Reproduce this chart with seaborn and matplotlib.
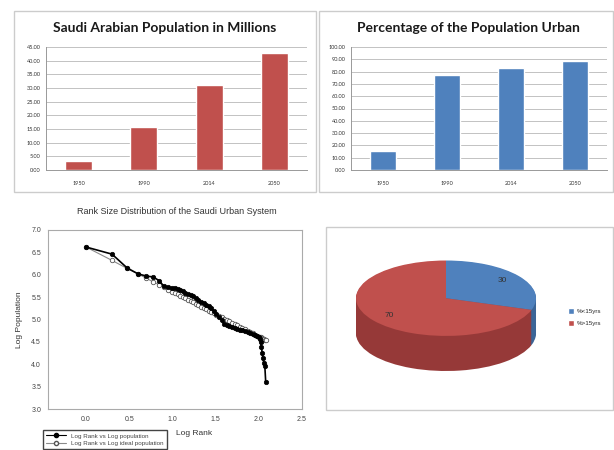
import numpy as np
import seaborn as sns
import matplotlib.pyplot as plt
from matplotlib.patches import Rectangle, Patch
from matplotlib.lines import Line2D

# bar charts
years = ['1950', '1990', '2014', '2050']
pop_millions = [3.2, 15.8, 31.0, 42.7]
pct_urban = [15.5, 77.0, 83.2, 88.6]

# rank size distribution (log10 rank, log10 population)
log_rank = [0.0, 0.301, 0.477, 0.602, 0.699, 0.778, 0.845, 0.903, 0.954, 1.0,
            1.03, 1.06, 1.09, 1.12, 1.15, 1.18, 1.21, 1.24, 1.27, 1.30,
            1.33, 1.36, 1.39, 1.42, 1.45, 1.48, 1.51, 1.54, 1.57, 1.60,
            1.63, 1.66, 1.69, 1.72, 1.75, 1.78, 1.81, 1.84, 1.87, 1.90,
            1.93, 1.96, 1.98, 2.00, 2.01, 2.02, 2.03, 2.04, 2.05, 2.06,
            2.07, 2.08]
log_pop = [6.62, 6.46, 6.15, 6.02, 5.97, 5.95, 5.87, 5.74, 5.72, 5.71,
           5.70, 5.68, 5.66, 5.63, 5.60, 5.57, 5.55, 5.52, 5.47, 5.43,
           5.40, 5.37, 5.33, 5.30, 5.25, 5.19, 5.13, 5.06, 4.98, 4.91,
           4.87, 4.85, 4.83, 4.81, 4.79, 4.77, 4.76, 4.74, 4.72, 4.70,
           4.68, 4.66, 4.64, 4.60, 4.57, 4.50, 4.38, 4.25, 4.13, 4.02,
           3.95, 3.60]
log_ideal = [6.62, 6.32, 6.14, 6.02, 5.92, 5.84, 5.78, 5.72, 5.67, 5.62,
             5.59, 5.56, 5.53, 5.50, 5.47, 5.44, 5.41, 5.38, 5.35, 5.32,
             5.29, 5.26, 5.23, 5.20, 5.17, 5.14, 5.11, 5.08, 5.05, 5.02,
             4.99, 4.96, 4.93, 4.90, 4.87, 4.84, 4.81, 4.78, 4.75, 4.72,
             4.69, 4.66, 4.64, 4.62, 4.61, 4.60, 4.59, 4.58, 4.57, 4.56,
             4.55, 4.54]

# age structure pie
age_labels = ['%<15yrs', '%>15yrs']
age_share = [30, 70]

sns.set_theme(style='white')
plt.rcParams['font.family'] = ['Liberation Sans', 'DejaVu Sans']

W, H = 614, 450
fig = plt.figure(figsize=(W / 100, H / 100), dpi=100)


def px_rect(x0, y0, x1, y1):
    return [x0 / W, 1 - y1 / H, (x1 - x0) / W, (y1 - y0) / H]


def frame(x0, y0, x1, y1):
    fig.add_artist(Rectangle((x0 / W, 1 - y1 / H), (x1 - x0) / W, (y1 - y0) / H,
                             transform=fig.transFigure, fill=False,
                             ec='#cccccc', lw=1))


def bar_panel(rect, vals, color, ymax, step, title, tx):
    ax = fig.add_axes(px_rect(*rect))
    sns.barplot(x=years, y=vals, color=color, saturation=1, width=0.41, ax=ax)
    ax.set_xlim(-0.5, 3.5)
    ax.set_ylim(0, ymax)
    ticks = np.arange(0, ymax + step / 2, step)
    ax.set_yticks(ticks)
    ax.set_yticklabels([f'{t:.2f}' for t in ticks], family='Lato')
    ax.set_xticks([0.5, 1.5, 2.5], minor=True)
    ax.grid(axis='y', color='#b8b8b8', lw=0.6)
    ax.set_axisbelow(True)
    for s in ['top', 'right']:
        ax.spines[s].set_visible(False)
    for s in ['left', 'bottom']:
        ax.spines[s].set_color('#999999')
        ax.spines[s].set_linewidth(0.7)
    ax.tick_params(axis='both', labelsize=4, colors='#333333', length=0, pad=4)
    ax.tick_params(axis='x', pad=8)
    ax.tick_params(axis='y', length=2, color='#999999', pad=2, width=0.6)
    ax.tick_params(axis='x', which='minor', length=2, color='#999999', width=0.6)
    for lb in ax.get_xticklabels():
        lb.set_family('Lato')
    ax.set_xlabel('')
    ax.set_ylabel('')
    fig.text(tx / W, 1 - 28 / H, title, ha='center', va='center',
             fontsize=10, fontweight='bold', family='Lato', color='#1a1a1a')
    return ax


frame(14, 11, 316, 192)
frame(319, 11, 613, 192)
frame(326, 227, 613, 410)

bar_panel((46, 47, 307, 170), pop_millions, '#C0504D', 45, 5,
          'Saudi Arabian Population in Millions', 165)
bar_panel((351, 47, 607, 170), pct_urban, '#4F81BD', 100, 10,
          'Percentage of the Population Urban', 468)

# rank size scatter
ax3 = fig.add_axes(px_rect(48, 230, 302, 409))
sns.lineplot(x=log_rank, y=log_ideal, sort=False, color='#8a8a8a', lw=0.8,
             marker='o', ms=3.2, mfc='white', mec='#555555', mew=0.6, ax=ax3)
sns.lineplot(x=log_rank, y=log_pop, sort=False, color='black', lw=1.2,
             marker='o', ms=3.2, mfc='black', mec='black', mew=0.5, ax=ax3)
ax3.set_xlim(-0.44, 2.5)
ax3.set_ylim(3.0, 7.0)
ax3.set_xticks(np.arange(0, 2.51, 0.5))
ax3.set_yticks(np.arange(3.0, 7.01, 0.5))
ax3.xaxis.set_major_formatter(plt.FormatStrFormatter('%.1f'))
ax3.yaxis.set_major_formatter(plt.FormatStrFormatter('%.1f'))
for s in ax3.spines.values():
    s.set_color('#aaaaaa')
    s.set_linewidth(0.8)
ax3.tick_params(labelsize=5, colors='#444444', length=2, width=0.6, pad=3)
ax3.set_xlabel('Log Rank', fontsize=6, color='#333333')
ax3.set_ylabel('Log Population', fontsize=6, color='#333333')
ax3.xaxis.set_label_coords(0.575, -0.117)
ax3.yaxis.set_label_coords(-0.10, 0.5)
fig.text(177 / W, 1 - 212 / H, 'Rank Size Distribution of the Saudi Urban System',
         ha='center', va='center', fontsize=6.5, color='#333333')
handles = [Line2D([], [], color='black', lw=0.8, marker='o', ms=3, mfc='black'),
           Line2D([], [], color='#8a8a8a', lw=0.8, marker='o', ms=3, mfc='white',
                  mec='#555555')]
fig.legend(handles, ['Log Rank vs Log population', 'Log Rank vs Log ideal population'],
           loc='upper left', bbox_to_anchor=(40 / W, 1 - 427 / H), fontsize=4.5,
           frameon=True, fancybox=False, edgecolor='#444444', framealpha=1,
           borderpad=0.5, labelspacing=0.35, handlelength=3.2,
           labelcolor='#444444')

# pie with a fake 3D side
axp = fig.add_axes(px_rect(356, 260.5, 536, 371))
depth = 0.93
for d in np.linspace(depth, 0.02, 30):
    axp.pie(age_share, colors=['#3B6597', '#963938'], startangle=90,
            counterclock=False, center=(0, -d), radius=1,
            wedgeprops=dict(lw=0))
_, _, pct_txt = axp.pie(age_share, colors=['#4F81BD', '#C0504D'], startangle=90,
                        counterclock=False, center=(0, 0), radius=1,
                        wedgeprops=dict(lw=0),
                        autopct=lambda p: f'{p:.0f}', pctdistance=0.78,
                        textprops=dict(fontsize=6, color='#333333'))
axp.set_aspect('auto')
axp.set_xlim(-1, 1)
axp.set_ylim(-1 - depth, 1)
axp.axis('off')
fig.legend([Patch(fc='#4F81BD'), Patch(fc='#C0504D')], age_labels,
           loc='center left', bbox_to_anchor=(562 / W, 1 - 317 / H), frameon=False,
           fontsize=4.5, handlelength=1.0, handleheight=1.0, handletextpad=0.4,
           labelspacing=1.0)

fig.savefig('out.png', dpi=100)
